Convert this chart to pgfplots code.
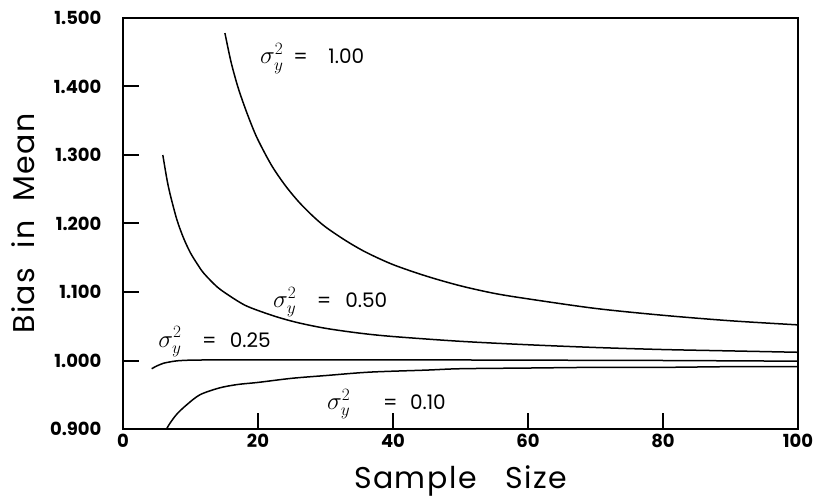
\documentclass[border=0pt]{standalone}
\usepackage{fontspec}
\setmainfont{Poppins}
\newfontfamily\widefont{Poppins}[LetterSpace=5]
\usepackage{pgfplots}
\pgfplotsset{compat=1.18}

\newcommand{\lbl}{\fontsize{20}{20}\selectfont}
\newcommand{\sig}{\fontsize{25}{25}\selectfont}

\begin{document}
\begin{tikzpicture}
\useasboundingbox (-123pt,-71pt) rectangle (695pt,429pt);
\begin{axis}[
    at={(0,0)}, anchor=south west,
    width=675pt, height=411pt, scale only axis,
    xmin=0, xmax=100, ymin=0.9, ymax=1.5,
    xtick={0,20,40,60,80,100},
    ytick={0.9,1.0,1.1,1.2,1.3,1.4,1.5},
    tick pos=left, tick align=inside,
    tickwidth=16pt,
    every tick/.style={black, line width=2pt},
    axis line style={line width=2.4pt},
    /pgf/number format/assume math mode=true,
    yticklabel style={/pgf/number format/fixed, /pgf/number format/fixed zerofill,
        /pgf/number format/precision=3, xshift=-18pt},
    ticklabel style={font=\fontsize{18}{18}\selectfont\bfseries},
    xticklabel style={yshift=-2pt},
    xlabel={Sample\ \ \ Size},
    ylabel={Bias\ \ in\ \ Mean},
    label style={font=\fontsize{30}{30}\widefont},
    xlabel style={at={(axis description cs:0.5,-0.127)}, anchor=center},
    ylabel style={at={(axis description cs:-0.148,0.5)}, anchor=center},
    clip=false,
]
% sigma^2 = 1.00
\addplot[black, line width=1.5pt, smooth] coordinates {
 (15.1,1.478) (16,1.436) (17,1.400) (18,1.371) (19,1.345) (20,1.322)
 (22,1.285) (24,1.256) (26,1.232) (28,1.212) (30,1.195) (33,1.175)
 (36,1.158) (40,1.140) (45,1.123) (50,1.109) (55,1.098) (60,1.090)
 (70,1.076) (80,1.066) (90,1.058) (100,1.052)
};
% sigma^2 = 0.50
\addplot[black, line width=1.5pt, smooth] coordinates {
 (5.9,1.300) (6.5,1.265) (7,1.242) (8,1.205) (9,1.178) (10,1.157)
 (11,1.141) (12,1.127) (14,1.107) (16,1.093) (18,1.081) (20,1.073)
 (23,1.063) (26,1.055) (30,1.047) (35,1.040) (40,1.035) (50,1.028)
 (60,1.023) (70,1.019) (80,1.016) (90,1.014) (100,1.012)
};
% sigma^2 = 0.25
\addplot[black, line width=1.5pt, smooth] coordinates {
 (4.25,0.988) (5,0.992) (6,0.996) (7,0.998) (8,0.9995) (10,1.0005)
 (15,1.001) (20,1.001) (40,1.001) (60,1.0005) (80,1.000) (100,0.999)
};
% sigma^2 = 0.10
\addplot[black, line width=1.5pt, smooth] coordinates {
 (6.45,0.900) (7,0.909) (8,0.922) (9.4,0.935) (11.4,0.950) (14.3,0.960)
 (17,0.965) (20,0.968) (25,0.974) (30,0.978) (36.5,0.983) (45,0.986)
 (50,0.988) (60,0.989) (70,0.990) (80,0.990) (90,0.991) (100,0.991)
};

\tikzset{lab/.style={anchor=base west, inner sep=0pt}}
% labels: sigma, "=", value
\node[lab, font=\sig] at (axis cs:20.3,1.433) {$\sigma_y^2$};
\node[lab, font=\lbl] at (axis cs:25.2,1.433) {=};
\node[lab, font=\lbl] at (axis cs:30.4,1.433) {1.00};
\node[lab, font=\sig] at (axis cs:22.2,1.078) {$\sigma_y^2$};
\node[lab, font=\lbl] at (axis cs:28.7,1.078) {=};
\node[lab, font=\lbl] at (axis cs:32.9,1.078) {0.50};
\node[lab, font=\sig] at (axis cs:5.2,1.0197) {$\sigma_y^2$};
\node[lab, font=\lbl] at (axis cs:11.7,1.0197) {=};
\node[lab, font=\lbl] at (axis cs:15.8,1.0197) {0.25};
\node[lab, font=\sig] at (axis cs:30.2,0.928) {$\sigma_y^2$};
\node[lab, font=\lbl] at (axis cs:38.5,0.928) {=};
\node[lab, font=\lbl] at (axis cs:42.5,0.928) {0.10};
\end{axis}
\end{tikzpicture}
\end{document}
